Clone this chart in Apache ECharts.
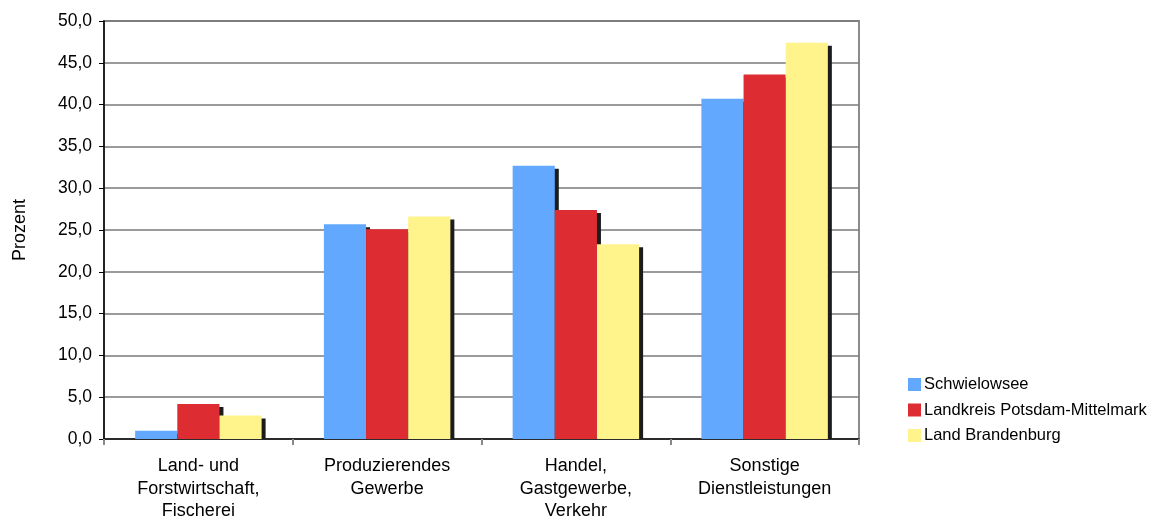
<!DOCTYPE html>
<html>
<head>
<meta charset="utf-8">
<script src="https://cdn.jsdelivr.net/npm/echarts@6/dist/echarts.min.js"></script>
<style>
  html, body { margin: 0; padding: 0; background: #fff; }
  #chart { width: 1162px; height: 516px; }
</style>
</head>
<body>
<div id="chart"></div>
<script>
// Erwerbstätige nach Wirtschaftsbereichen (Anteile in Prozent)
const categories = [
  'Land- und\nForstwirtschaft,\nFischerei',
  'Produzierendes\nGewerbe',
  'Handel,\nGastgewerbe,\nVerkehr',
  'Sonstige\nDienstleistungen'
];
const seriesNames = ['Schwielowsee', 'Landkreis Potsdam-Mittelmark', 'Land Brandenburg'];
const schwielowsee = [1.0, 25.7, 32.7, 40.7];
const potsdamMittelmark = [4.2, 25.1, 27.4, 43.6];
const brandenburg = [2.8, 26.6, 23.3, 47.4];
const colors = ['#62a8ff', '#de2c33', '#fff38c'];

const FONT = '"Liberation Sans", Arial, sans-serif';
const CATEGORY_GAP = 0.33;   // share of each band left empty
const SHADOW_DX = 4, SHADOW_DY = 3;

const allValues = [schwielowsee, potsdamMittelmark, brandenburg];

const chart = echarts.init(document.getElementById('chart'), null, { renderer: 'canvas' });

// Hard drop shadow behind each bar, clipped at the baseline
function shadowSeries(k) {
  return {
    type: 'custom',
    silent: true,
    z: 1,
    data: allValues[k].map((v, i) => [i, v]),
    renderItem: function (params, api) {
      const idx = api.value(0);
      const val = api.value(1);
      const band = api.size([1, 0])[0];
      const barW = band * (1 - CATEGORY_GAP) / 3;
      const center = api.coord([idx, 0])[0];
      const base = api.coord([idx, 0])[1];
      const top = api.coord([idx, val])[1];
      const left = center - 1.5 * barW + k * barW;
      const y = top + SHADOW_DY;
      return {
        type: 'rect',
        shape: { x: left + SHADOW_DX, y: y, width: barW, height: Math.max(0, base - y) },
        style: { fill: '#1c1c1c' }
      };
    }
  };
}

function bar(k) {
  return {
    name: seriesNames[k],
    type: 'bar',
    z: 2,
    data: allValues[k],
    barGap: '0%',
    barCategoryGap: (CATEGORY_GAP * 100) + '%',
    itemStyle: { color: colors[k] },
    emphasis: { disabled: true }
  };
}

chart.setOption({
  animation: false,
  color: colors,
  textStyle: { fontFamily: FONT },
  grid: {
    left: 104, right: 303, top: 21, bottom: 77,
    outerBoundsMode: 'none',
    containLabel: false,
    show: true, borderColor: '#8c8c8c', borderWidth: 2, backgroundColor: 'transparent'
  },
  legend: {
    orient: 'vertical',
    left: 903, top: 371,
    itemWidth: 13, itemHeight: 13, itemGap: 8.5,
    icon: 'rect',
    textStyle: { fontFamily: FONT, fontSize: 16.5, color: '#000', padding: [0, 0, 0, -2] },
    data: seriesNames
  },
  xAxis: {
    type: 'category',
    data: categories,
    axisLine: { lineStyle: { color: '#111', width: 1.5 } },
    axisTick: { show: true, length: 6, lineStyle: { color: '#888', width: 2 } },
    axisLabel: { fontFamily: FONT, fontSize: 18, color: '#000', lineHeight: 22.5, margin: 16 }
  },
  yAxis: {
    type: 'value',
    min: 0, max: 50, interval: 5,
    name: 'Prozent',
    nameLocation: 'middle',
    nameGap: 75,
    nameTextStyle: { fontFamily: FONT, fontSize: 18, color: '#000' },
    axisLine: { show: true, lineStyle: { color: '#000', width: 1.5 } },
    axisTick: { show: true, length: 5, lineStyle: { color: '#000' } },
    axisLabel: {
      fontFamily: FONT, fontSize: 17.5, color: '#000', margin: 12,
      formatter: v => v.toFixed(1).replace('.', ',')
    },
    splitLine: { lineStyle: { color: '#7a7a7a', width: 1.5 } }
  },
  series: [
    shadowSeries(0), shadowSeries(1), shadowSeries(2),
    bar(0), bar(1), bar(2)
  ]
});
</script>
</body>
</html>
